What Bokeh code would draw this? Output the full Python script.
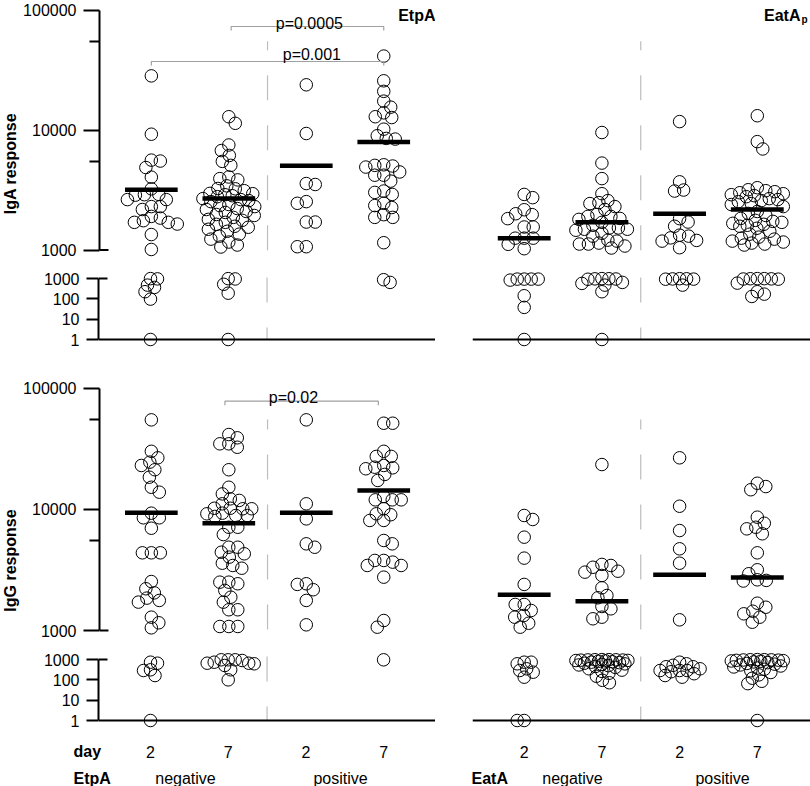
import numpy as np
from bokeh.plotting import figure
from bokeh.models import Range1d, FixedTicker, PrintfTickFormatter, Span, Label
from bokeh.layouts import column, row
from bokeh.embed import file_html
from bokeh.resources import INLINE

# ---------------- data ----------------
day_labels = ["2", "7", "2", "7"]
status_labels = ["negative", "positive"]
upper_ticks = [1000, 10000, 100000]
upper_minor = [5500, 55000]
lower_ticks = [1, 10, 100, 1000]

# IgA response, EtpA groups
iga_etpa_neg_d2 = [28250, 9225, 5610, 5510, 4865, 4045, 3235, 2905, 2890, 2865, 2630, 2630, 2300, 2300,
                   2175, 1905, 1845, 1755, 1700, 1700, 1645, 1345, 1010, 990, 960, 473, 365, 224, 97, 1]
iga_etpa_neg_d7 = [12900, 11370, 7500, 6740, 6135, 5475, 5075, 4060, 3935, 3840, 3425, 3255, 3235, 3120,
                   2963, 2945, 2890, 2835, 2782, 2680, 2630, 2580, 2530, 2393, 2345, 2300, 2216, 2175,
                   2094, 2055, 1977, 1940, 1870, 1800, 1767, 1700, 1637, 1577, 1547, 1489, 1433, 1355,
                   1304, 1232, 1165, 1100, 1059, 985, 950, 520, 190, 1]
iga_etpa_pos_d2 = [23800, 9350, 3580, 3515, 2530, 2450, 1710, 1710, 1065, 1065]
iga_etpa_pos_d7 = [41300, 25700, 21000, 17400, 15500, 13900, 12900, 12700, 10160, 8960, 8510, 8400,
                   5130, 5075, 5010, 4910, 4470, 4200, 4200, 3750, 3100, 3020, 2905, 2450, 2345, 2260,
                   1970, 1870, 1870, 1150, 873, 643]
iga_etpa_means = [3180, 2690, 5040, 7950]

# IgA response, EatA groups
iga_eata_neg_d2 = [2905, 2730, 2165, 2005, 1970, 1825, 1555, 1555, 1255, 1255, 1255, 1115, 1025,
                   935, 935, 935, 935, 834, 142, 38, 1]
iga_eata_neg_d7 = [9530, 5300, 3935, 2945, 2580, 2483, 2437, 2300, 2175, 1977, 1905, 1905, 1833, 1800,
                   1700, 1607, 1527, 1527, 1489, 1489, 1461, 1380, 1304, 1208, 1186, 1142, 1121, 1121,
                   1079, 1039, 990, 975, 960, 945, 920, 643, 574, 473, 224, 1]
iga_eata_pos_d2 = [11750, 3700, 3160, 3100, 1825, 1710, 1577, 1330, 1305, 1262, 1202, 1186, 1045,
                   980, 970, 955, 934, 925, 473]
iga_eata_pos_d7 = [13150, 8000, 6950, 3305, 3180, 3120, 3060, 3000, 2945, 2890, 2835, 2782, 2680, 2630,
                   2580, 2530, 2437, 2393, 2300, 2094, 2017, 1940, 1833, 1767, 1733, 1700, 1668, 1637,
                   1607, 1577, 1517, 1433, 1355, 1280, 1255, 1232, 1186, 1165, 1142, 1121, 1100,
                   990, 985, 975, 960, 945, 930, 593, 224, 170, 131]
iga_eata_means = [1255, 1700, 2005, 2175]

# IgG response, EtpA groups
igg_etpa_neg_d2 = [54700, 30100, 26600, 24500, 23000, 21200, 18400, 15200, 13840, 9290, 8510, 8510,
                   6980, 4375, 4375, 4375, 2535, 2210, 2045, 1850, 1770, 1715, 1288, 1158, 1052,
                   738, 658, 312, 288, 163, 1]
igg_etpa_neg_d7 = [41400, 38900, 34700, 34700, 32500, 21200, 15200, 13400, 12200, 11840, 11100, 10200,
                   10200, 10100, 10100, 9290, 9180, 8890, 8890, 8730, 7110, 7110, 6190, 4865, 4865,
                   4425, 4295, 4030, 3590, 3440, 3265, 2505, 2505, 2430, 2140, 1883, 1713, 1483, 1483,
                   1079, 1079, 1079, 968, 968, 968, 894, 738, 658, 658, 615, 507, 312, 100]
igg_etpa_pos_d2 = [54700, 11100, 8340, 5190, 4865, 2430, 2400, 2170, 1770, 1114]
igg_etpa_pos_d7 = [51300, 51300, 30100, 27300, 27300, 23000, 22250, 22000, 21600, 19400, 17300, 12760,
                   11970, 11970, 11970, 10100, 9180, 9020, 8090, 8090, 5530, 5190, 3785, 3785, 3665,
                   3440, 3440, 2755, 1209, 1065, 968]
igg_etpa_means = [9350, 7670, 9350, 14300]

# IgG response, EatA groups
igg_eata_neg_d2 = [8890, 8240, 5890, 3955, 2400, 1640, 1640, 1462, 1330, 1288, 1148, 1065,
                   738, 738, 615, 349, 288, 238, 135, 1, 1]
igg_eata_neg_d7 = [23400, 3510, 3440, 3325, 3085, 3030, 2845, 2250, 1944, 1862, 1578, 1510, 1288, 1249,
                   990, 985, 975, 968, 955, 940, 930, 905, 890, 860, 820, 775, 740, 700, 655, 610, 575,
                   540, 500, 455, 410, 350, 300, 260, 210, 150, 95, 72]
igg_eata_pos_d2 = [26600, 10600, 6680, 4720, 3590, 1225, 738, 615, 520, 440, 440, 349, 288, 288, 288,
                   250, 200, 163, 135]
igg_eata_pos_d7 = [16400, 15400, 14500, 8610, 7670, 7110, 6900, 6280, 4375, 3170, 2940, 2620, 2590,
                   2560, 1680, 1556, 1442, 1373, 1288, 1170, 990, 980, 975, 960, 950, 930, 910, 880,
                   850, 820, 760, 700, 640, 590, 540, 480, 430, 380, 330, 280, 230, 175, 120, 85, 65, 1]
igg_eata_means = [1970, 1745, 2880, 2735]

p_text_top = ["p=0.0005", "p=0.001"]
p_text_bottom = ["p=0.02"]

# ---------------- layout constants ----------------
FONT = "Liberation Sans"
UNIT = 77.7                        # px per category step
L_CAT1 = 150.0                     # page x of first category, left panel
R_CAT1 = 523.7                     # page x of first category, right panel
R_OFF = (R_CAT1 - L_CAT1) / UNIT
L_XR = (1 - 52 / UNIT, 1 + 285 / UNIT)      # frame 98 .. 435
R_XR = (1 - 51.7 / UNIT, 1 + 286.3 / UNIT)  # frame 472 .. 810
L_FW, R_FW = 337, 338
STRIP_W = 20

# T: canvas top (page px), H: canvas height, b: px from canvas bottom to reference value,
# D: px per decade, L0: log10 of reference value
SEG = {
    "top_up": dict(T=0, H=263, b=13.5, D=120.0, L0=3),
    "top_lo": dict(T=263, H=92, b=16, D=20.33, L0=0),
    "bot_up": dict(T=355, H=290, b=15, D=121.2, L0=3),
    "bot_lo": dict(T=645, H=86, b=11, D=20.33, L0=0),
}
TEXT_TOP, TEXT_BOTTOM = 731, 786


def yrange(s):
    return 10 ** (s["L0"] - s["b"] / s["D"]), 10 ** (s["L0"] + (s["H"] - s["b"]) / s["D"])


def val_at(s, page_y):
    return 10 ** (s["L0"] + (s["T"] + s["H"] - s["b"] - page_y) / s["D"])


def xl(px):
    return 1 + (px - L_CAT1) / UNIT


def xr_(px):
    return 1 + (px - R_CAT1) / UNIT


def swarm_offsets(vals, D, min_d, half_w=26.0, step=0.5):
    ys = -np.log10(np.asarray(vals, float)) * D
    order = np.argsort(ys, kind="stable")
    cands = np.arange(-half_w, half_w + step / 2, step)
    absc = np.abs(cands)
    px_, py_ = [], []
    out = np.zeros(len(ys))
    side = 1.0
    for i in order:
        y = ys[i]
        if not px_:
            c = 0.0
        else:
            P = np.array(px_)
            Q = np.array(py_)
            d = np.sqrt((cands[:, None] - P[None, :]) ** 2 + (y - Q[None, :]) ** 2).min(axis=1)
            ok = d >= min_d
            if ok.any():
                best = absc[ok].min()
                choices = cands[ok & (np.abs(absc - best) < 1e-9)]
                c = choices[0] if len(choices) == 1 else (best * side)
            else:
                score = d - absc * 1e-3
                c = cands[np.argmax(score)]
        if c != 0:
            side = -np.sign(c)
        out[i] = c
        px_.append(c)
        py_.append(y)
    return out


def make_fig(seg, left, strip=False):
    s = SEG[seg]
    y0, y1 = yrange(s)
    if left:
        bl = (98 - STRIP_W) if strip else 98
        fw = L_FW
    else:
        bl = 37
        fw = R_FW
    p = figure(width=bl + fw, height=s["H"],
               x_range=Range1d(*(L_XR if left else R_XR)), y_range=Range1d(y0, y1),
               y_axis_type="log", x_axis_location=None,
               y_axis_location="left" if left else None,
               toolbar_location=None, output_backend="svg",
               min_border_left=bl, min_border_right=0, min_border_top=0, min_border_bottom=0)
    p.outline_line_color = None
    p.background_fill_color = "white"
    p.border_fill_color = "white"
    p.grid.visible = False
    return p


def text_fig(width, height, xrng, yrng):
    p = figure(width=width, height=height, x_range=Range1d(*xrng), y_range=Range1d(*yrng),
               x_axis_location=None, y_axis_location=None, toolbar_location=None,
               output_backend="svg", min_border=0)
    p.outline_line_color = None
    p.background_fill_color = "white"
    p.border_fill_color = "white"
    p.grid.visible = False
    return p


def style_axis(p, upper):
    ax = p.yaxis[0]
    if upper:
        ax.bounds = (upper_ticks[0], upper_ticks[-1])
        ax.ticker = FixedTicker(ticks=upper_ticks, minor_ticks=upper_minor)
        ax.major_tick_out = 16
        ax.major_label_standoff = 7
    else:
        ax.bounds = (lower_ticks[0], lower_ticks[-1])
        ax.ticker = FixedTicker(ticks=lower_ticks, minor_ticks=[])
        ax.major_tick_out = 12
        ax.major_label_standoff = 7
    ax.formatter = PrintfTickFormatter(format="%d")
    ax.major_tick_in = 0
    ax.minor_tick_in = 0
    ax.minor_tick_out = 10
    ax.axis_line_width = 2
    ax.major_tick_line_width = 2
    ax.minor_tick_line_width = 2
    ax.axis_line_color = "black"
    ax.major_tick_line_color = "black"
    ax.minor_tick_line_color = "black"
    ax.major_label_text_font = FONT
    ax.major_label_text_font_size = "16px"
    ax.major_label_text_color = "black"
    # inward half of the axis-break tick at 1000
    x0 = p.x_range.start
    p.segment(x0=[x0], y0=[1000], x1=[x0 + 9 / UNIT], y1=[1000], line_width=2, line_color="black")


DASH_OFF = {"top_up": 16, "top_lo": 36, "bot_up": 15, "bot_lo": 39}


def draw_panel(p_up, p_lo, seg_up, seg_lo, groups, means):
    for gi, vals in enumerate(groups):
        cx = gi + 1
        v = np.asarray(vals, float)
        for seg, fig, vv, md in ((seg_up, p_up, v[v > 1000], 9.0), (seg_lo, p_lo, v[v <= 1000], 7.0)):
            if len(vv) == 0:
                continue
            off = swarm_offsets(vv, SEG[seg]["D"], md) / UNIT
            fig.scatter(x=cx + off, y=vv, marker="circle", size=12.5, fill_color=None,
                        line_color="black", line_width=1)
    xs = np.arange(1, len(means) + 1)
    p_up.segment(x0=xs - 0.34, y0=means, x1=xs + 0.34, y1=means, line_width=4.5,
                 line_color="black", line_cap="butt")
    # dashed group separator
    up_lo = yrange(SEG[seg_up])[0]
    lo_hi = yrange(SEG[seg_lo])[1]
    p_up.segment(x0=[2.5], y0=[55000], x1=[2.5], y1=[up_lo], line_color="#bdbdbd",
                 line_width=1.2, line_dash="25 25", line_dash_offset=DASH_OFF[seg_up])
    p_lo.segment(x0=[2.5], y0=[lo_hi], x1=[2.5], y1=[1], line_color="#bdbdbd",
                 line_width=1.2, line_dash="25 25", line_dash_offset=DASH_OFF[seg_lo])
    p_lo.add_layout(Span(location=1, dimension="width", line_color="black", line_width=2))


def bracket(p, seg, x0, x1, page_y):
    s = SEG[seg]
    yv = val_at(s, page_y)
    yt = val_at(s, page_y + 4)
    p.multi_line(xs=[[x0, x0, x1, x1]], ys=[[yt, yv, yv, yt]], line_color="#a0a0a0", line_width=1.2)


def label(p, x, y, text, size="16px", bold=False, align="center", baseline="alphabetic", angle=0.0):
    p.add_layout(Label(x=x, y=y, text=text, text_font=FONT, text_font_size=size,
                       text_font_style="bold" if bold else "normal", text_color="black",
                       text_align=align, text_baseline=baseline, angle=angle))


# ---------------- figures ----------------
tu_l, tu_r = make_fig("top_up", True, strip=True), make_fig("top_up", False)
tl_l, tl_r = make_fig("top_lo", True), make_fig("top_lo", False)
bu_l, bu_r = make_fig("bot_up", True, strip=True), make_fig("bot_up", False)
bl_l, bl_r = make_fig("bot_lo", True), make_fig("bot_lo", False)

for p in (tu_l, bu_l):
    style_axis(p, True)
for p in (tl_l, bl_l):
    style_axis(p, False)

draw_panel(tu_l, tl_l, "top_up", "top_lo",
           [iga_etpa_neg_d2, iga_etpa_neg_d7, iga_etpa_pos_d2, iga_etpa_pos_d7], iga_etpa_means)
draw_panel(tu_r, tl_r, "top_up", "top_lo",
           [iga_eata_neg_d2, iga_eata_neg_d7, iga_eata_pos_d2, iga_eata_pos_d7], iga_eata_means)
draw_panel(bu_l, bl_l, "bot_up", "bot_lo",
           [igg_etpa_neg_d2, igg_etpa_neg_d7, igg_etpa_pos_d2, igg_etpa_pos_d7], igg_etpa_means)
draw_panel(bu_r, bl_r, "bot_up", "bot_lo",
           [igg_eata_neg_d2, igg_eata_neg_d7, igg_eata_pos_d2, igg_eata_pos_d7], igg_eata_means)

# significance brackets
bracket(tu_l, "top_up", 2.03, 4.0, 26)
label(tu_l, xl(308.5), val_at(SEG["top_up"], 23), p_text_top[0])
bracket(tu_l, "top_up", 1.0, 4.0, 61)
label(tu_l, xl(311), val_at(SEG["top_up"], 53.5), p_text_top[1])
bracket(bu_l, "bot_up", 1.95, 3.93, 400.7)
label(bu_l, xl(292.5), val_at(SEG["bot_up"], 397), p_text_bottom[0])

# panel titles
label(tu_l, xl(435), val_at(SEG["top_up"], 15), "EtpA", bold=True, align="right")
label(tu_r, xr_(800), val_at(SEG["top_up"], 15), "EatA", bold=True, align="right")
label(tu_r, xr_(801), val_at(SEG["top_up"], 19), "p", size="10px", bold=True, align="left")

# y axis titles (narrow strips left of the axes)
s_top = text_fig(STRIP_W, SEG["top_up"]["H"], (0, STRIP_W), (SEG["top_up"]["H"], 0))
label(s_top, 10, 163, "IgA response", bold=True, baseline="middle", angle=np.pi / 2)
s_bot = text_fig(STRIP_W, SEG["bot_up"]["H"], (0, STRIP_W),
                 (SEG["bot_up"]["T"] + SEG["bot_up"]["H"], SEG["bot_up"]["T"]))
label(s_bot, 10, 560, "IgG response", bold=True, baseline="middle", angle=np.pi / 2)

# category labels under the bottom panels
cat_fig = text_fig(810, TEXT_BOTTOM - TEXT_TOP, (xl(0), xl(810)), (TEXT_BOTTOM, TEXT_TOP))
Y_DAY, Y_GRP = 751, 778
label(cat_fig, xl(73), Y_DAY, "day", bold=True, align="left")
label(cat_fig, xl(73), Y_GRP, "EtpA", bold=True, align="left")
label(cat_fig, xl(471), Y_GRP, "EatA", bold=True, align="left")
for i, d in enumerate(day_labels):
    label(cat_fig, i + 1, Y_DAY, d)
    label(cat_fig, i + 1 + R_OFF, Y_DAY, d)
label(cat_fig, xl(185), Y_GRP, status_labels[0])
label(cat_fig, xl(340), Y_GRP, status_labels[1])
label(cat_fig, xl(572), Y_GRP, status_labels[0])
label(cat_fig, xl(722), Y_GRP, status_labels[1])

layout = column(row(s_top, tu_l, tu_r), row(tl_l, tl_r), row(s_bot, bu_l, bu_r), row(bl_l, bl_r),
                cat_fig)
open("out.html", "w").write(file_html(layout, INLINE))
